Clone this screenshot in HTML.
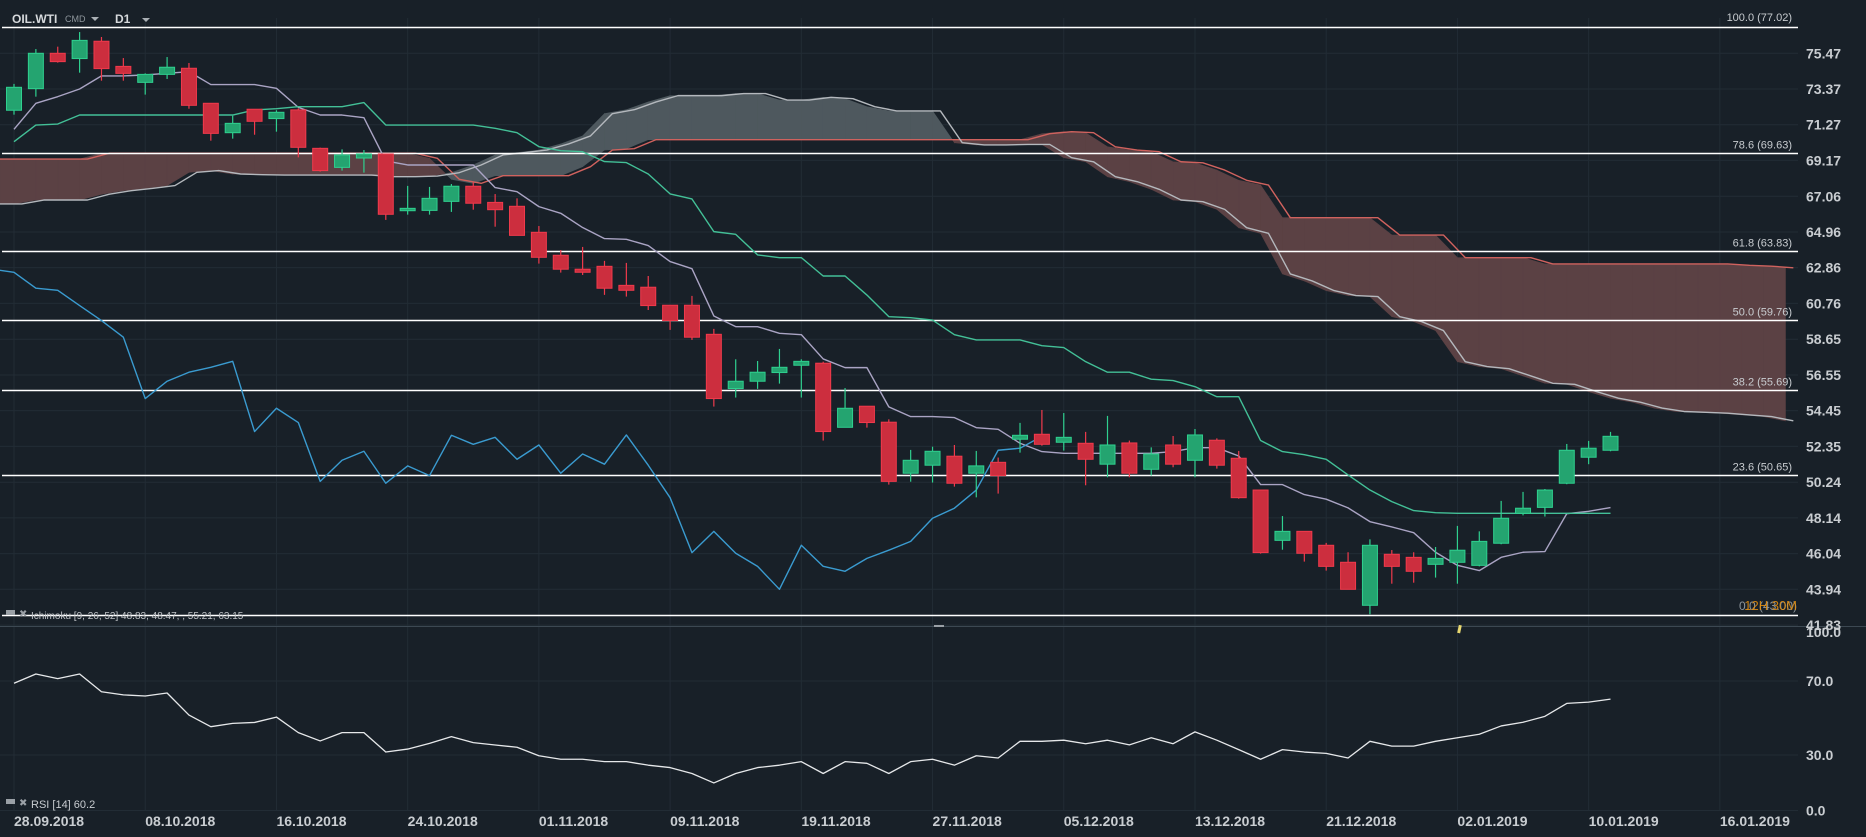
<!DOCTYPE html>
<html><head><meta charset="utf-8"><style>
html,body{margin:0;padding:0;background:#182028;}
svg{display:block;font-family:"Liberation Sans",sans-serif;}
</style></head><body>
<svg id="chart" width="1866" height="837" viewBox="0 0 1866 837" xmlns="http://www.w3.org/2000/svg">
<rect width="1866" height="837" fill="#182028"/>
<defs><clipPath id="mainclip"><rect x="0" y="18" width="1798" height="608"/></clipPath>
<clipPath id="rsiclip"><rect x="0" y="627" width="1798" height="200"/></clipPath></defs>
<g id="grid"></g>
<g id="cloud" clip-path="url(#mainclip)"></g>
<g id="fib"></g>
<g id="lines" clip-path="url(#mainclip)"></g>
<g id="candles" clip-path="url(#mainclip)"></g>
<g id="rsi" clip-path="url(#rsiclip)"></g>
<g id="axes"></g>
<g>
<text x="12" y="23" font-size="12" font-weight="bold" fill="#d6d9dc">OIL.WTI</text>
<text x="65" y="22" font-size="9" fill="#8e969c">CMD</text>
<path d="M91 17 L99 17 L95 21 Z" fill="#aab0b5"/>
<text x="115" y="23" font-size="12" font-weight="bold" fill="#d6d9dc">D1</text>
<path d="M142 18 L150 18 L146 22 Z" fill="#aab0b5"/>
</g>
<g>
<rect x="6" y="610" width="9" height="5" fill="#9aa0a6"/>
<text x="19" y="617" font-size="10" fill="#9aa0a6">✖</text>
<text x="31" y="619" font-size="10" fill="#c0c4c8">Ichimoku  [9, 26, 52]  48.83,  48.47,  ,  55.21,  63.15</text>
</g>
<g>
<rect x="6" y="799" width="9" height="5" fill="#9aa0a6"/>
<text x="19" y="806" font-size="10" fill="#9aa0a6">✖</text>
<text x="31" y="808" font-size="11" fill="#c8ccd0">RSI [14]  60.2</text>
</g>
<text x="1797" y="610" font-size="12" fill="#8e969c" text-anchor="end">0.0 (43.00)</text>
<text x="1797" y="610" font-size="13" fill="#e8900c" text-anchor="end" opacity="0.85">12H 30M</text>
<rect x="1458" y="625" width="3" height="8" fill="#e8d870" transform="rotate(12 1459 629)"/>
<rect x="934" y="625" width="10" height="2" fill="#9aa0a6"/>
</svg>
<script>
const opens=[72.12,73.39,75.47,75.16,76.18,74.70,73.76,74.23,74.59,72.53,70.80,72.18,71.63,72.14,69.88,68.76,69.31,69.55,66.21,66.23,66.76,67.65,66.70,66.47,64.94,
63.59,62.77,62.94,61.82,61.71,60.65,60.65,58.94,55.75,56.18,56.69,57.12,57.24,53.47,54.71,53.77,50.77,51.24,51.77,50.77,51.41,52.77,53.06,52.59,52.53,
51.30,52.55,51.00,52.43,51.53,52.71,51.65,49.78,46.82,47.35,46.53,45.53,43.00,46.00,45.82,45.41,45.53,45.35,46.65,48.41,48.76,50.18,51.71,52.12];
const closes=[73.47,75.47,74.98,76.23,74.57,74.29,74.23,74.65,72.41,70.76,71.35,71.47,72.00,69.94,68.57,69.49,69.55,66.00,66.35,66.94,67.65,66.65,66.27,64.76,63.47,
62.77,62.59,61.65,61.53,60.63,59.75,58.77,55.16,56.18,56.71,57.00,57.35,53.22,54.59,53.75,50.29,51.53,52.06,50.18,51.20,50.63,53.00,52.47,52.88,51.59,
52.43,50.77,51.90,51.30,53.02,51.24,49.33,46.10,47.35,46.06,45.29,43.94,46.53,45.29,45.00,45.76,46.24,46.76,48.12,48.71,49.78,52.12,52.24,52.94];
const highs=[73.67,75.72,75.86,76.72,76.43,75.19,74.29,75.25,74.90,72.53,71.80,72.18,72.12,72.23,69.92,69.82,69.78,69.55,67.67,67.61,67.78,67.88,67.19,66.94,65.31,
63.90,64.08,63.26,63.14,62.37,60.65,61.20,59.26,57.47,57.37,58.08,57.47,57.33,55.78,54.71,53.94,52.14,52.33,52.43,52.08,51.69,53.73,54.49,54.31,53.20,
54.14,52.69,52.29,52.96,53.37,52.82,52.08,49.78,48.25,47.35,46.67,46.12,46.88,46.25,46.12,46.43,47.67,47.35,49.14,49.67,49.84,52.49,52.67,53.20];
const lows=[71.86,72.92,74.92,74.33,73.86,73.86,73.04,73.96,72.21,70.33,70.45,70.68,70.86,69.35,68.51,68.57,68.45,65.67,65.98,65.98,66.14,66.27,65.27,64.76,63.10,
62.57,62.43,61.26,61.16,60.37,59.20,58.61,54.69,55.22,55.73,56.04,55.22,52.69,53.47,53.45,50.10,50.27,50.22,49.98,49.35,49.57,51.98,52.39,52.10,50.06,
50.53,50.53,50.63,51.12,50.53,51.04,49.27,46.04,46.27,45.57,45.04,43.94,42.47,44.27,44.33,44.63,44.27,45.29,46.59,48.29,48.22,50.12,51.30,52.06];
const tenkan=[71.0,72.53,72.92,73.37,74.14,74.14,74.2,74.29,74.39,73.63,73.63,73.63,73.41,72.29,71.84,71.84,71.68,69.14,68.90,68.90,68.90,68.90,67.57,67.33,66.45,66.06,
65.22,64.57,64.53,64.16,63.22,62.80,60.02,59.39,59.39,59.0,58.92,57.49,56.98,56.98,54.67,54.10,54.10,54.04,53.45,53.35,52.53,52.04,51.94,51.94,
51.94,51.94,51.94,52.04,52.27,52.27,51.78,50.10,50.10,49.51,49.24,48.73,47.92,47.61,47.27,46.12,45.35,45.04,45.82,46.12,46.16,48.39,48.53,48.75];
const kijun=[70.27,71.25,71.31,71.84,71.84,71.84,71.84,71.84,71.84,71.84,71.84,72.14,72.21,72.33,72.33,72.33,72.57,71.25,71.25,71.25,71.25,71.25,71.06,70.80,69.98,69.74,
69.68,69.10,69.04,68.37,67.20,66.90,64.98,64.82,63.61,63.45,63.45,62.37,62.37,61.25,59.98,59.92,59.78,58.92,58.61,58.61,58.61,58.27,58.16,57.33,
56.71,56.71,56.30,56.22,55.86,55.27,55.27,52.69,52.04,51.86,51.59,50.67,49.78,49.10,48.57,48.45,48.41,48.41,48.41,48.41,48.41,48.41,48.41,48.41];
const spanA=[69.25,69.25,69.25,69.25,69.59,69.59,69.59,69.59,69.59,69.59,69.59,69.59,69.59,69.59,69.59,69.59,69.59,69.59,69.59,69.29,
68.06,67.82,68.27,68.27,68.27,68.27,68.80,69.78,69.86,70.39,70.39,70.39,70.39,70.39,70.39,70.39,70.39,70.39,70.39,70.39,
70.39,70.39,70.39,70.39,70.39,70.39,70.39,70.74,70.86,70.80,69.97,69.78,69.68,69.09,69.03,68.60,68.00,67.72,65.80,65.80,
65.80,65.80,65.80,64.78,64.78,64.78,63.45,63.45,63.45,63.45,63.08,63.08,63.08,63.08,63.08,63.08,63.08,63.08,63.08,63.00,62.95,62.85];
const spanB=[66.61,66.84,66.84,66.84,67.18,67.39,67.53,67.69,68.47,68.57,68.37,68.33,68.31,68.31,68.31,68.31,68.31,68.21,68.21,68.25,
68.45,68.90,69.49,69.63,69.78,70.14,70.61,71.92,72.15,72.61,72.98,72.98,72.98,73.10,73.10,72.72,72.72,72.88,72.80,72.33,
72.08,72.08,72.08,70.21,70.08,70.08,70.11,70.11,69.33,69.09,68.21,67.92,67.47,66.84,66.74,66.29,65.21,64.88,62.49,62.08,
61.51,61.22,61.16,59.98,59.69,59.16,57.33,57.04,56.92,56.49,56.06,56.00,55.57,55.18,54.95,54.60,54.40,54.35,54.30,54.20,54.10,53.85];
const rsi=[68.8,73.8,71.3,73.8,64.2,62.5,61.9,63.5,51.6,45.3,47.1,47.6,50.5,42.1,37.6,42.1,42.1,31.6,33.2,36.3,39.9,36.7,35.4,
34.2,29.6,27.7,27.7,26.4,26.4,24.5,23.2,20.0,14.9,20.0,23.2,24.5,26.4,20.0,26.4,25.5,20.0,26.4,27.7,24.5,29.6,28.4,37.4,37.4,38.0,36.1,
38.0,35.5,39.3,36.1,42.5,38.0,32.9,27.7,32.9,31.6,30.9,28.4,37.4,34.8,34.8,37.4,39.3,41.2,45.7,47.7,50.9,57.9,58.6,60.2];
const priceTicks=["75.47","73.37","71.27","69.17","67.06","64.96","62.86","60.76","58.65","56.55","54.45","52.35","50.24","48.14","46.04","43.94","41.83"];
const rsiTicks=["100.0","70.0","30.0","0.0"];
const dateLabels=["28.09.2018","08.10.2018","16.10.2018","24.10.2018","01.11.2018","09.11.2018","19.11.2018","27.11.2018","05.12.2018","13.12.2018","21.12.2018","02.01.2019","10.01.2019","16.01.2019"];
const fibLevels=["100.0","78.6","61.8","50.0","38.2","23.6"];
const fibPrices=[77.02,69.63,63.83,59.76,55.69,50.65];
const fibZeroPrice=42.43;
const chikouShift=26;

const NS="http://www.w3.org/2000/svg";
const STEP=21.87, X0=14;
function xOf(i){return X0+i*STEP;}
function yP(p){return 53.3+(75.47-p)*17.0;}
function yR(v){return 810.5-1.85*v;}
function mk(tag,attrs,parent){const e=document.createElementNS(NS,tag);for(const k in attrs)e.setAttribute(k,attrs[k]);parent.appendChild(e);return e;}
const G=id=>document.getElementById(id);

const grid=G('grid');
priceTicks.forEach((t)=>{const y=yP(parseFloat(t));
 const l=mk('line',{x1:0,x2:1798,y1:y,y2:y,stroke:'#222c35','stroke-width':1},grid);
 
 });
rsiTicks.forEach((t)=>{const v=parseFloat(t);if(v===100)return;const y=yR(v);
 const l=mk('line',{x1:0,x2:1798,y1:y,y2:y,stroke:'#222c35','stroke-width':1},grid);
 
 });
dateLabels.forEach((d,k)=>{const x=xOf(k*6);
 const l=mk('line',{x1:x,x2:x,y1:18,y2:810,stroke:'#222c35','stroke-width':1},grid);
 
 });

const cloud=G('cloud');
function quad(pts,red){const p=mk('polygon',{points:pts.map(q=>q[0].toFixed(2)+','+q[1].toFixed(2)).join(' '),fill:red?'#5b4144':'#4e585e',stroke:red?'#5b4144':'#4e585e','stroke-width':0.6},cloud);
 
 }
{const a0=spanA[0],b0=spanB[0];quad([[0,yP(a0)],[xOf(0),yP(a0)],[xOf(0),yP(b0)],[0,yP(b0)]],a0>=b0);}
for(let k=0;k<spanA.length-1;k++){
 const a1=spanA[k],b1=spanB[k],a2=spanA[k+1],b2=spanB[k+1];const d1=a1-b1,d2=a2-b2;
 const x1=xOf(k),x2=xOf(k+1);
 if(d1*d2>=0){quad([[x1,yP(a1)],[x2,yP(a2)],[x2,yP(b2)],[x1,yP(b1)]],(d1+d2)>=0);}
 else{const t=d1/(d1-d2);const xm=x1+t*(x2-x1);const pm=a1+t*(a2-a1);
  quad([[x1,yP(a1)],[xm,yP(pm)],[x1,yP(b1)]],d1>0);
  quad([[xm,yP(pm)],[x2,yP(a2)],[x2,yP(b2)]],d2>0);}
}
function polyline(vals,startIdx,color,name,parent,yf,w){
 const pts=vals.map((v,i)=>xOf(i+startIdx).toFixed(2)+','+yf(v).toFixed(2)).join(' ');
 const pl=mk('polyline',{points:pts,fill:'none',stroke:color,'stroke-width':w||1.4,'stroke-linejoin':'round'},parent);
 
 
 return pl;}
polyline([spanA[0]].concat(spanA),-0.64,'#d0625e','senkou-span-a',cloud,yP);
polyline([spanB[0]].concat(spanB),-0.64,'#b4b8bd','senkou-span-b',cloud,yP);

const fib=G('fib');
fibPrices.forEach((p,k)=>{const y=Math.round(yP(p))+0.5;
 const l=mk('line',{x1:2,x2:1798,y1:y,y2:y,stroke:'#ffffff','stroke-width':1.5},fib);
 
 
 if(k>0){const t=mk('text',{x:1792,y:y-5,'font-size':11,fill:'#c8ccd0','text-anchor':'end'},fib);
 t.textContent=fibLevels[k]+' ('+p.toFixed(2)+')';
 
 }
});
{const y=Math.round(yP(fibZeroPrice))+0.5;
 const l=mk('line',{x1:2,x2:1798,y1:y,y2:y,stroke:'#ffffff','stroke-width':1.5},fib);
 
 }
{const t=mk('text',{x:1792,y:21,'font-size':11,fill:'#c8ccd0','text-anchor':'end'},fib);
 t.textContent=fibLevels[0]+' ('+fibPrices[0].toFixed(2)+')';
 
 }

const lines=G('lines');
polyline(tenkan,0,'#aaa4c4','tenkan-sen-line',lines,yP);
polyline(kijun,0,'#43c097','kijun-sen-line',lines,yP);
const chikou=closes.slice(chikouShift-1);
polyline(chikou,-1,'#3a9bd0','chikou-span-line',lines,yP);

const cg=G('candles');
for(let i=0;i<opens.length;i++){
 const up=closes[i]>=opens[i];const x=xOf(i);
 const g=mk('g',{},cg);
 
 
 const col=up?'#2fd08f':'#f03a4c', fill=up?'#24a470':'#cc2e3e';
 mk('line',{x1:x,x2:x,y1:yP(highs[i]),y2:yP(lows[i]),stroke:col,'stroke-width':1.2},g);
 const yt=yP(Math.max(opens[i],closes[i])),yb=yP(Math.min(opens[i],closes[i]));
 mk('rect',{x:x-7.5,y:yt,width:15,height:Math.max(1.5,yb-yt),fill:fill,stroke:col,'stroke-width':1},g);
}

polyline(rsi,0,'#e6e8ea','rsi-line',G('rsi'),yR,1.3);

const ax=G('axes');
const sep=mk('line',{x1:0,x2:1866,y1:626.5,y2:626.5,stroke:'#3c4852','stroke-width':1},ax);


priceTicks.forEach(t=>{const v=parseFloat(t);const tx=mk('text',{x:1806,y:yP(v)+5,'font-size':14,'font-weight':'bold',fill:'#c9cdd1'},ax);
 tx.textContent=t;
 
 });
rsiTicks.forEach(t=>{const v=parseFloat(t);const y=v===100?637:yR(v)+5;const tx=mk('text',{x:1806,y:y,'font-size':14,'font-weight':'bold',fill:'#c9cdd1'},ax);
 tx.textContent=t;
 
 });
dateLabels.forEach((d,k)=>{const tx=mk('text',{x:xOf(k*6),y:826,'font-size':14,'font-weight':'bold',fill:'#c9cdd1'},ax);
 tx.textContent=d;
 
 });
</script>
</body></html>
